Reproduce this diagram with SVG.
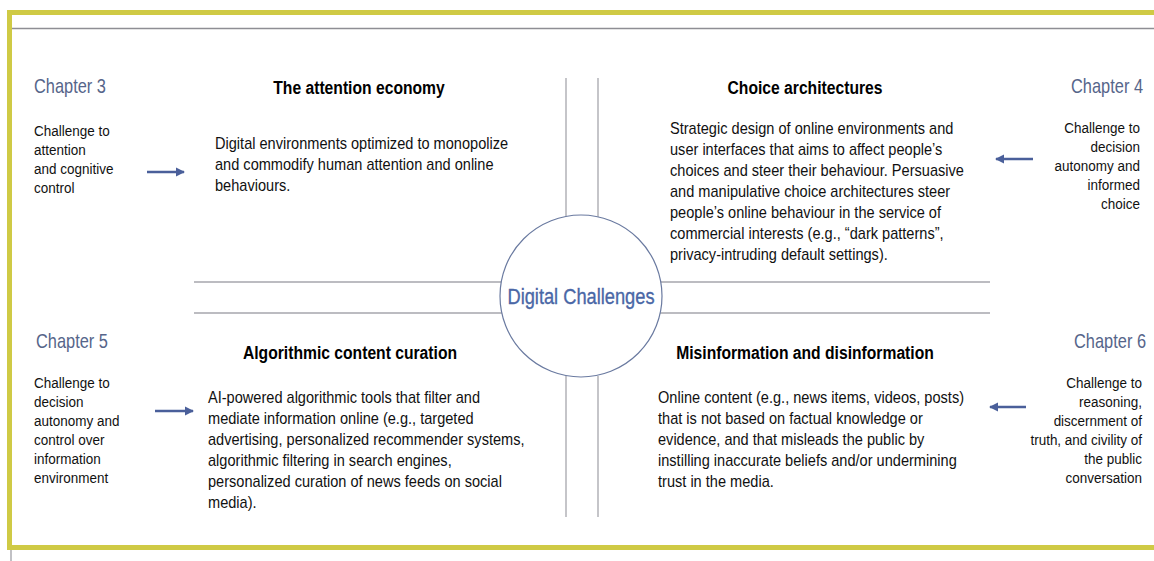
<svg xmlns="http://www.w3.org/2000/svg" width="1154" height="561" viewBox="0 0 1154 561">
<defs>
<style>
text{font-family:"Liberation Sans",Arial,sans-serif;}
.ch{font-size:20.5px;fill:#56658a;}
.side{font-size:15.5px;fill:#111;}
.r{text-anchor:end;}
.title{font-size:19px;font-weight:bold;fill:#000;text-anchor:middle;}
.body{font-size:17px;fill:#111;}
.grid{stroke:#a6a6ac;stroke-width:1.3;fill:none;}
.arr{stroke:#4a5f9a;stroke-width:2.6;fill:none;marker-end:url(#ah);}
</style>
<marker id="ah" viewBox="0 0 10 10" refX="9" refY="5" markerWidth="3.6" markerHeight="3.6" orient="auto" markerUnits="strokeWidth">
<path d="M0,0 L10,5 L0,10 z" fill="#4a5f9a"/>
</marker>
</defs>
<rect width="1154" height="561" fill="#fff"/>
<g id="frame">
<line x1="11" y1="550" x2="11" y2="561" stroke="#a0a0a6" stroke-width="1.3"/>
<path d="M1160,12.5 L9.5,12.5 L9.5,547.5 L1160,547.5" fill="none" stroke="#cfca45" stroke-width="5"/>
<line x1="12" y1="28.5" x2="1154" y2="28.5" stroke="#8e8e94" stroke-width="1.3"/>
</g>
<g id="connectors">
<line class="grid" x1="566" y1="78" x2="566" y2="217"/>
<line class="grid" x1="598" y1="78" x2="598" y2="217"/>
<line class="grid" x1="566" y1="376" x2="566" y2="517"/>
<line class="grid" x1="598" y1="376" x2="598" y2="517"/>
<line class="grid" x1="194" y1="282" x2="502" y2="282"/>
<line class="grid" x1="194" y1="313" x2="502" y2="313"/>
<line class="grid" x1="660" y1="282" x2="990" y2="282"/>
<line class="grid" x1="660" y1="313" x2="990" y2="313"/>
<line class="arr" x1="147" y1="172" x2="184" y2="172"/>
<line class="arr" x1="1033" y1="159" x2="996" y2="159"/>
<line class="arr" x1="155" y1="411" x2="193" y2="411"/>
<line class="arr" x1="1026" y1="407" x2="990" y2="407"/>
</g>
<g id="center">
<circle cx="581" cy="296" r="81" fill="#fff" stroke="#6a7aa0" stroke-width="1.2"/>
<g transform="translate(581,0) scale(0.83,1)">
<text x="0" y="304" text-anchor="middle" style="font-size:22px;fill:#4a67a6;stroke:#4a67a6;stroke-width:0.35;">Digital Challenges</text>
</g>
</g>
<g id="ch3">
<g transform="translate(34,0) scale(0.8,1)"><text class="ch" x="0" y="93">Chapter 3</text></g>
<g transform="translate(34,0) scale(0.87,1)">
<text class="side" x="0" y="136">Challenge to</text>
<text class="side" x="0" y="155">attention</text>
<text class="side" x="0" y="174">and cognitive</text>
<text class="side" x="0" y="193">control</text>
</g>
</g>
<g id="attention">
<g transform="translate(359,0) scale(0.825,1)"><text class="title" x="0" y="94">The attention economy</text></g>
<g transform="translate(215,0) scale(0.857,1)">
<text class="body" x="0" y="149">Digital environments optimized to monopolize</text>
<text class="body" x="0" y="170">and commodify human attention and online</text>
<text class="body" x="0" y="191">behaviours.</text>
</g>
</g>
<g id="ch4">
<g transform="translate(1143,0) scale(0.8,1)"><text class="ch r" x="0" y="93">Chapter 4</text></g>
<g transform="translate(1140,0) scale(0.87,1)">
<text class="side r" x="0" y="133">Challenge to</text>
<text class="side r" x="0" y="152">decision</text>
<text class="side r" x="0" y="171">autonomy and</text>
<text class="side r" x="0" y="190">informed</text>
<text class="side r" x="0" y="209">choice</text>
</g>
</g>
<g id="choice">
<g transform="translate(805,0) scale(0.825,1)"><text class="title" x="0" y="94">Choice architectures</text></g>
<g transform="translate(670,0) scale(0.857,1)">
<text class="body" x="0" y="134">Strategic design of online environments and</text>
<text class="body" x="0" y="155">user interfaces that aims to affect people’s</text>
<text class="body" x="0" y="176">choices and steer their behaviour. Persuasive</text>
<text class="body" x="0" y="197">and manipulative choice architectures steer</text>
<text class="body" x="0" y="218">people’s online behaviour in the service of</text>
<text class="body" x="0" y="239">commercial interests (e.g., “dark patterns”,</text>
<text class="body" x="0" y="260">privacy-intruding default settings).</text>
</g>
</g>
<g id="ch5">
<g transform="translate(36,0) scale(0.8,1)"><text class="ch" x="0" y="348">Chapter 5</text></g>
<g transform="translate(34,0) scale(0.87,1)">
<text class="side" x="0" y="388">Challenge to</text>
<text class="side" x="0" y="407">decision</text>
<text class="side" x="0" y="426">autonomy and</text>
<text class="side" x="0" y="445">control over</text>
<text class="side" x="0" y="464">information</text>
<text class="side" x="0" y="483">environment</text>
</g>
</g>
<g id="algorithmic">
<g transform="translate(350,0) scale(0.825,1)"><text class="title" x="0" y="359">Algorithmic content curation</text></g>
<g transform="translate(208,0) scale(0.857,1)">
<text class="body" x="0" y="403">AI-powered algorithmic tools that filter and</text>
<text class="body" x="0" y="424">mediate information online (e.g., targeted</text>
<text class="body" x="0" y="445">advertising, personalized recommender systems,</text>
<text class="body" x="0" y="466">algorithmic filtering in search engines,</text>
<text class="body" x="0" y="487">personalized curation of news feeds on social</text>
<text class="body" x="0" y="508">media).</text>
</g>
</g>
<g id="ch6">
<g transform="translate(1146,0) scale(0.8,1)"><text class="ch r" x="0" y="348">Chapter 6</text></g>
<g transform="translate(1142,0) scale(0.87,1)">
<text class="side r" x="0" y="388">Challenge to</text>
<text class="side r" x="0" y="407">reasoning,</text>
<text class="side r" x="0" y="426">discernment of</text>
<text class="side r" x="0" y="445">truth, and civility of</text>
<text class="side r" x="0" y="464">the public</text>
<text class="side r" x="0" y="483">conversation</text>
</g>
</g>
<g id="misinformation">
<g transform="translate(805,0) scale(0.825,1)"><text class="title" x="0" y="359">Misinformation and disinformation</text></g>
<g transform="translate(658,0) scale(0.857,1)">
<text class="body" x="0" y="403">Online content (e.g., news items, videos, posts)</text>
<text class="body" x="0" y="424">that is not based on factual knowledge or</text>
<text class="body" x="0" y="445">evidence, and that misleads the public by</text>
<text class="body" x="0" y="466">instilling inaccurate beliefs and/or undermining</text>
<text class="body" x="0" y="487">trust in the media.</text>
</g>
</g>
</svg>
